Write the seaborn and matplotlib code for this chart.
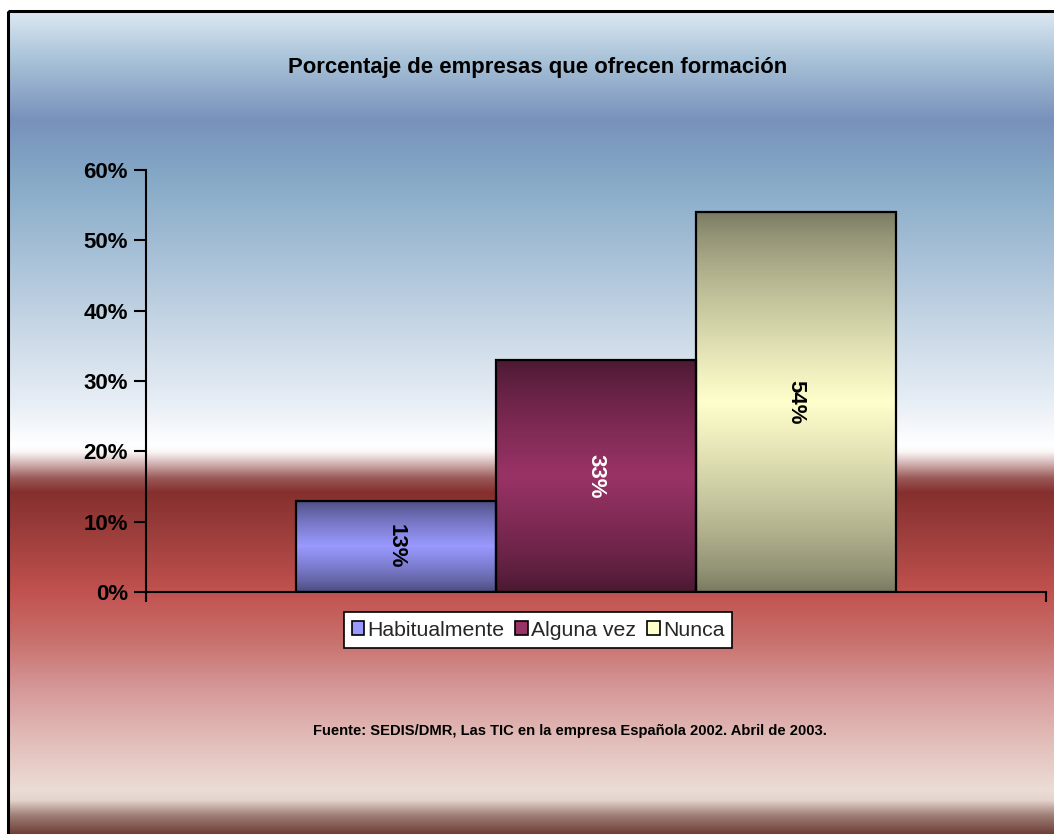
import numpy as np
import matplotlib
matplotlib.use("Agg")
import matplotlib.pyplot as plt
from matplotlib.colors import to_rgb
from matplotlib.patches import Rectangle, Patch
from matplotlib.ticker import PercentFormatter
import seaborn as sns

# Data
series = ["Habitualmente", "Alguna vez", "Nunca"]
values = [0.13, 0.33, 0.54]
bar_colors = ["#9999FF", "#993366", "#FFFFCC"]
label_colors = ["black", "white", "black"]
yticks = [0.0, 0.1, 0.2, 0.3, 0.4, 0.5, 0.6]

title = "Porcentaje de empresas que ofrecen formación"
source = "Fuente: SEDIS/DMR, Las TIC en la empresa Española 2002. Abril de 2003."

sns.set_theme(style="white")
plt.rcParams["font.family"] = ["Liberation Sans", "DejaVu Sans"]

W, H = 1054, 834
fig = plt.figure(figsize=(W / 100, H / 100), dpi=100)

# Chart-area background: vertical colour gradient (pixel rows from the top)
stops = [
    (11, "#dde9f3"), (60, "#a8c2d8"), (120, "#7891bb"), (175, "#84a8c6"),
    (260, "#a9c2d8"), (340, "#cddbe8"), (400, "#e6edf5"), (445, "#ffffff"),
    (452, "#fbf6f6"), (462, "#d8bcbc"), (478, "#9a5a58"), (492, "#85302e"),
    (540, "#a0403d"), (592, "#c1524f"), (640, "#c8706c"), (690, "#d6999a"),
    (740, "#e2bdb8"), (790, "#ecdcd6"), (800, "#e5d4ce"), (815, "#a08078"),
    (834, "#6c3e36"),
]
sy = np.array([s[0] for s in stops], dtype=float)
sc = np.array([to_rgb(s[1]) for s in stops])
rows = np.arange(H) + 0.5
col = np.stack([np.interp(rows, sy, sc[:, k]) for k in range(3)], axis=1)
img = np.repeat(col[:, None, :], W, axis=1)
img[:11, :, :] = 1.0
img[:, :8, :] = 1.0

bg = fig.add_axes([0, 0, 1, 1], zorder=-10)
bg.imshow(img, extent=[0, W, H, 0], aspect="auto", interpolation="bilinear")
bg.set_xlim(0, W)
bg.set_ylim(H, 0)
bg.axis("off")
bg.add_patch(Rectangle((8, 11), W + 20, H + 20, fill=False, edgecolor="black", lw=2.2))

# Plot area
ax = fig.add_axes([146 / W, 242 / H, 900 / W, 422 / H])
ax.patch.set_alpha(0)

sns.barplot(x=series, y=values, hue=series, palette=bar_colors, width=1.0,
            saturation=1, legend=False, edgecolor="black", linewidth=1.6, ax=ax)

xlim = (-1.25, 3.25)

# Banded fill for each bar: dark at top and bottom, bright in the middle
t = np.linspace(0, 1, 256)
f = 1 - np.abs(2 * t - 1)
shade = 0.47 + 0.53 * f ** 0.75
for patch, c in zip(ax.patches, bar_colors):
    x0, y0 = patch.get_x(), patch.get_y()
    w, h = patch.get_width(), patch.get_height()
    rgb = np.array(to_rgb(c))
    grad = np.clip(shade[:, None] * rgb[None, :], 0, 1)[:, None, :]
    im = ax.imshow(grad, extent=[x0, x0 + w, y0, y0 + h], aspect="auto",
                   origin="lower", interpolation="bilinear", zorder=1.5)
    im.set_clip_path(patch)
    patch.set_facecolor("none")
    patch.set_zorder(2)

for i, (v, lc) in enumerate(zip(values, label_colors)):
    ax.text(i, v / 2, f"{v * 100:.0f}%", rotation=-90, ha="center", va="center",
            fontsize=16, fontweight="bold", color=lc, zorder=3)

ax.set_xlim(*xlim)
ax.set_ylim(0, 0.6)
ax.set_yticks(yticks)
ax.yaxis.set_major_formatter(PercentFormatter(1.0, decimals=0))
ax.set_xticks(list(xlim))
ax.set_xticklabels([])
ax.set_xlabel("")
ax.set_ylabel("")
for s in ["top", "right"]:
    ax.spines[s].set_visible(False)
for s in ["left", "bottom"]:
    ax.spines[s].set_color("black")
    ax.spines[s].set_linewidth(1.5)
ax.tick_params(axis="y", direction="out", length=9, width=1.5, color="black",
               pad=4, labelsize=16, left=True)
ax.tick_params(axis="x", direction="out", length=7, width=1.5, color="black", bottom=True)
for lab in ax.get_yticklabels():
    lab.set_fontweight("bold")
    lab.set_color("black")
ax.grid(False)

# Legend
handles = [Patch(facecolor=c, edgecolor="black", linewidth=1.2) for c in bar_colors]
leg = fig.legend(handles, series, loc="center", bbox_to_anchor=(538 / W, 1 - 630 / H),
                 ncol=3, fontsize=15.3, frameon=True, fancybox=False, borderpad=0.38,
                 handlelength=0.6, handleheight=0.6, handletextpad=0.15,
                 columnspacing=0.5, borderaxespad=0)
leg.get_frame().set_edgecolor("black")
leg.get_frame().set_facecolor("white")
leg.get_frame().set_linewidth(1.2)
leg.get_frame().set_alpha(1)

fig.text(538 / W, 1 - 67 / H, title, ha="center", va="center",
         fontsize=15.9, fontweight="bold", color="black")
fig.text(570 / W, 1 - 731 / H, source, ha="center", va="center",
         fontsize=10.6, fontweight="bold", color="black")

fig.savefig("out.png", dpi=100)
